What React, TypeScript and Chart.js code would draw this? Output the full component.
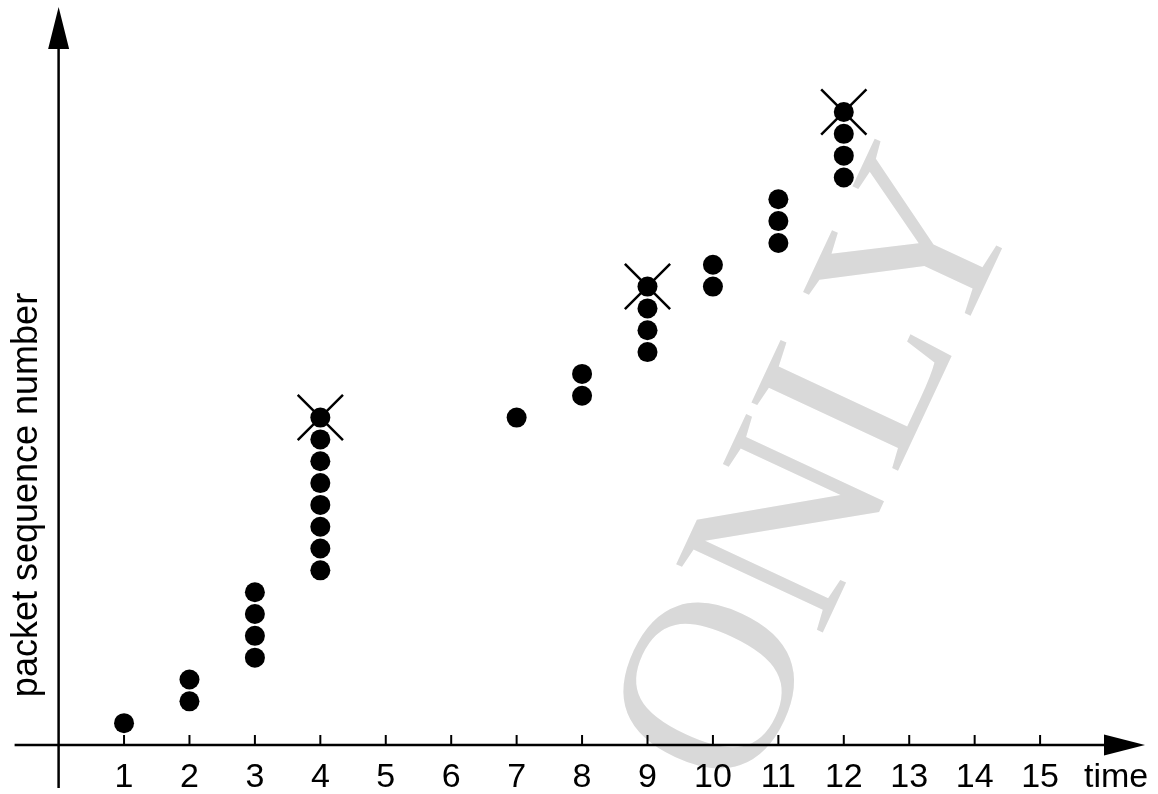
import React, { useEffect, useRef } from 'react';
import { Chart, registerables } from 'chart.js';

Chart.register(...registerables);

// ---- data ----
const timeTicks = [1, 2, 3, 4, 5, 6, 7, 8, 9, 10, 11, 12, 13, 14, 15];
const sendTimes = [1, 2, 3, 4, 7, 8, 9, 10, 11, 12];
const seqAtTime1 = [1];
const seqAtTime2 = [2, 3];
const seqAtTime3 = [4, 5, 6, 7];
const seqAtTime4 = [8, 9, 10, 11, 12, 13, 14, 15];
const seqAtTime7 = [15];
const seqAtTime8 = [16, 17];
const seqAtTime9 = [18, 19, 20, 21];
const seqAtTime10 = [21, 22];
const seqAtTime11 = [23, 24, 25];
const seqAtTime12 = [26, 27, 28, 29];
const seqBySendTime = [
  seqAtTime1, seqAtTime2, seqAtTime3, seqAtTime4, seqAtTime7,
  seqAtTime8, seqAtTime9, seqAtTime10, seqAtTime11, seqAtTime12,
];
const lostTimes = [4, 9, 12];
const lostSeq = [15, 21, 29];
const xAxisTitle = 'time';
const yAxisTitle = 'packet sequence number';
const watermarkText = 'ONLY';

// ---- layout ----
const W = 1158;
const H = 794;
const X_MIN = -0.8956;
const X_MAX = 16.802;
const Y_MIN = -2.245;
const Y_MAX = 34.13;

const sentPoints = sendTimes.flatMap((t, i) => seqBySendTime[i].map((s) => ({ x: t, y: s })));
const lostPoints = lostTimes.map((t, i) => ({ x: t, y: lostSeq[i] }));

const axesPlugin = {
  id: 'customAxes',
  beforeDatasetsDraw(chart: any) {
    const { ctx, scales } = chart;
    const xs = scales.x;
    const ys = scales.y;
    // watermark
    ctx.save();
    const wx = xs.getPixelForValue(12.615);
    const wy = ys.getPixelForValue(11.18);
    ctx.translate(wx, wy);
    ctx.rotate((-65 * Math.PI) / 180);
    ctx.font = '247px "Liberation Serif", "Times New Roman", serif';
    ctx.fillStyle = '#d9d9d9';
    ctx.textAlign = 'center';
    ctx.textBaseline = 'alphabetic';
    ctx.fillText(watermarkText, 0, 0);
    ctx.restore();
  },
  afterDatasetsDraw(chart: any) {
    const { ctx, scales } = chart;
    const xs = scales.x;
    const ys = scales.y;
    const ox = xs.getPixelForValue(0);
    const oy = ys.getPixelForValue(0);
    ctx.save();
    ctx.strokeStyle = '#000';
    ctx.fillStyle = '#000';
    ctx.lineWidth = 2.5;
    ctx.lineCap = 'butt';

    // x axis
    const xStart = ox - 44;
    const xTip = W - 13;
    const arrowLen = 41;
    const arrowHalf = 10.5;
    ctx.beginPath();
    ctx.moveTo(xStart, oy);
    ctx.lineTo(xTip - arrowLen + 2, oy);
    ctx.stroke();
    ctx.beginPath();
    ctx.moveTo(xTip, oy);
    ctx.lineTo(xTip - arrowLen, oy - arrowHalf);
    ctx.lineTo(xTip - arrowLen, oy + arrowHalf);
    ctx.closePath();
    ctx.fill();

    // y axis
    const yBottom = oy + 43;
    const yTip = 7;
    ctx.beginPath();
    ctx.moveTo(ox, yBottom);
    ctx.lineTo(ox, yTip + arrowLen - 2);
    ctx.stroke();
    ctx.beginPath();
    ctx.moveTo(ox, yTip);
    ctx.lineTo(ox - arrowHalf, yTip + 42);
    ctx.lineTo(ox + arrowHalf, yTip + 42);
    ctx.closePath();
    ctx.fill();

    // ticks + labels
    ctx.lineWidth = 2;
    ctx.font = '34px "Liberation Sans", Arial, sans-serif';
    ctx.textAlign = 'center';
    ctx.textBaseline = 'alphabetic';
    timeTicks.forEach((t) => {
      const px = xs.getPixelForValue(t);
      ctx.beginPath();
      ctx.moveTo(px, oy);
      ctx.lineTo(px, oy - 10);
      ctx.stroke();
      ctx.fillText(String(t), px, oy + 42);
    });
    ctx.textAlign = 'left';
    ctx.fillText(xAxisTitle, 1084, oy + 42);

    // y title
    ctx.translate(37, 495);
    ctx.rotate(-Math.PI / 2);
    ctx.font = '36px "Liberation Sans", Arial, sans-serif';
    ctx.textAlign = 'center';
    ctx.fillText(yAxisTitle, 0, 0);
    ctx.restore();
  },
};

export default function App() {
  const canvasRef = useRef<HTMLCanvasElement | null>(null);

  useEffect(() => {
    const canvas = canvasRef.current;
    if (!canvas) return;
    const chart = new Chart(canvas, {
      type: 'scatter',
      data: {
        datasets: [
          {
            data: sentPoints,
            pointRadius: 10,
            pointHoverRadius: 10,
            backgroundColor: '#000',
            borderColor: '#000',
            borderWidth: 0,
          },
          {
            data: lostPoints,
            pointStyle: 'crossRot',
            pointRadius: 32,
            pointHoverRadius: 32,
            borderColor: '#000',
            backgroundColor: '#000',
            borderWidth: 2.5,
          },
        ],
      },
      options: {
        responsive: false,
        animation: false,
        events: [],
        layout: { padding: 0, autoPadding: false },
        plugins: {
          legend: { display: false },
          tooltip: { enabled: false },
        },
        scales: {
          x: { type: 'linear', min: X_MIN, max: X_MAX, display: false },
          y: { type: 'linear', min: Y_MIN, max: Y_MAX, display: false },
        },
      },
      plugins: [axesPlugin],
    });
    return () => chart.destroy();
  }, []);

  return (
    <div style={{ position: 'fixed', left: 0, top: 0, width: W, height: H, background: '#fff' }}>
      <canvas ref={canvasRef} width={W} height={H} style={{ width: W, height: H, display: 'block' }} />
    </div>
  );
}
